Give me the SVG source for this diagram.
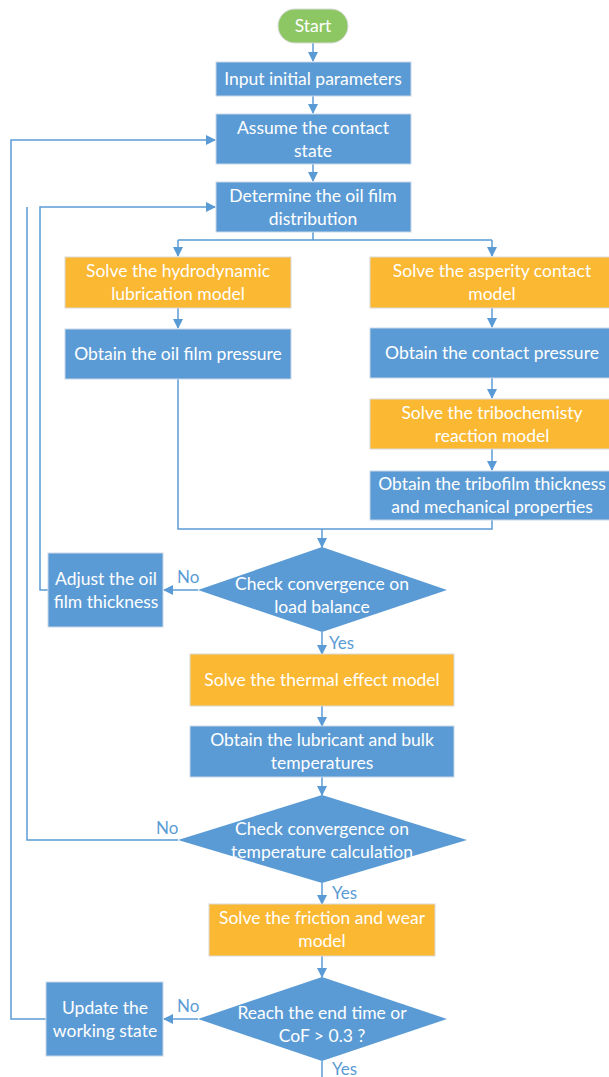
<svg xmlns="http://www.w3.org/2000/svg" width="609" height="1077" viewBox="0 0 609 1077">
<defs>
<marker id="ah" markerWidth="10" markerHeight="10" refX="9" refY="5" orient="auto" markerUnits="userSpaceOnUse">
<path d="M0,0 L10,5 L0,10 Z" fill="#5B9BD5"/>
</marker>
<style>
.b{fill:#5B9BD5;stroke:#C9D7E6;stroke-width:1}
.o{fill:#FBB832;stroke:#D9D9D9;stroke-width:1}
.d{fill:#5B9BD5;stroke:none}
.t{font-family:Lato,"Liberation Sans",sans-serif;font-size:17.5px;fill:#FFFFFF;text-anchor:middle}
.l{font-family:Lato,"Liberation Sans",sans-serif;font-size:17px;fill:#5B9BD5}
.c{fill:none;stroke:#5B9BD5;stroke-width:1.5}
</style>
</defs>
<rect width="609" height="1077" fill="#FFFFFF"/>
<g id="connectors">
<path class="c" d="M313,43 V61" marker-end="url(#ah)"/>
<path class="c" d="M313,96 V113" marker-end="url(#ah)"/>
<path class="c" d="M313,164 V181" marker-end="url(#ah)"/>
<path class="c" d="M313,232 V240 M178,240 H492"/>
<path class="c" d="M178,240 V256" marker-end="url(#ah)"/>
<path class="c" d="M492,240 V256" marker-end="url(#ah)"/>
<path class="c" d="M178,308 V328" marker-end="url(#ah)"/>
<path class="c" d="M492,308 V327" marker-end="url(#ah)"/>
<path class="c" d="M492,378 V398" marker-end="url(#ah)"/>
<path class="c" d="M492,449 V470" marker-end="url(#ah)"/>
<path class="c" d="M178,379 V529 H492 V520"/>
<path class="c" d="M322,529 V547" marker-end="url(#ah)"/>
<path class="c" d="M198,590 H164" marker-end="url(#ah)"/>
<path class="c" d="M48,590 H40 V207 H215" marker-end="url(#ah)"/>
<path class="c" d="M322,632 V654" marker-end="url(#ah)"/>
<path class="c" d="M322,706 V726" marker-end="url(#ah)"/>
<path class="c" d="M322,777 V795" marker-end="url(#ah)"/>
<path class="c" d="M178,840 H27 V207"/>
<path class="c" d="M322,883 V904" marker-end="url(#ah)"/>
<path class="c" d="M322,956 V977" marker-end="url(#ah)"/>
<path class="c" d="M198,1019 H164" marker-end="url(#ah)"/>
<path class="c" d="M46,1019 H11 V140 H215" marker-end="url(#ah)"/>
<path class="c" d="M322,1061 V1077"/>
<text class="l" x="177" y="583">No</text>
<text class="l" x="329" y="649">Yes</text>
<text class="l" x="156" y="834">No</text>
<text class="l" x="332" y="899">Yes</text>
<text class="l" x="177" y="1012">No</text>
<text class="l" x="332" y="1075">Yes</text>
</g>
<g id="start">
<rect x="278" y="9" width="70" height="34" rx="17" fill="#8DC764" stroke="#D9D9D9"/>
<text class="t" x="313" y="32">Start</text>
</g>
<g id="input">
<rect class="b" x="216" y="62" width="195" height="34"/>
<text class="t" x="313" y="85">Input initial parameters</text>
</g>
<g id="assume">
<rect class="b" x="216" y="114" width="195" height="50"/>
<text class="t" x="313" y="134">Assume the contact</text>
<text class="t" x="313" y="157">state</text>
</g>
<g id="determine">
<rect class="b" x="216" y="182" width="195" height="50"/>
<text class="t" x="313" y="202">Determine the oil film</text>
<text class="t" x="313" y="225">distribution</text>
</g>
<g id="hydro">
<rect class="o" x="65" y="257" width="226" height="51"/>
<text class="t" x="178" y="277">Solve the hydrodynamic</text>
<text class="t" x="178" y="300">lubrication model</text>
</g>
<g id="oilpressure">
<rect class="b" x="65" y="329" width="226" height="50"/>
<text class="t" x="178" y="360">Obtain the oil film pressure</text>
</g>
<g id="asperity">
<rect class="o" x="370" y="257" width="240" height="51"/>
<text class="t" x="492" y="277">Solve the asperity contact</text>
<text class="t" x="492" y="300">model</text>
</g>
<g id="contactpressure">
<rect class="b" x="370" y="328" width="240" height="50"/>
<text class="t" x="492" y="359">Obtain the contact pressure</text>
</g>
<g id="tribochem">
<rect class="o" x="370" y="399" width="240" height="50"/>
<text class="t" x="492" y="419">Solve the tribochemisty</text>
<text class="t" x="492" y="442">reaction model</text>
</g>
<g id="tribofilm">
<rect class="b" x="370" y="471" width="240" height="49"/>
<text class="t" x="492" y="490">Obtain the tribofilm thickness</text>
<text class="t" x="492" y="513">and mechanical properties</text>
</g>
<g id="check1">
<polygon class="d" points="322,547 447,590 322,632 198,590"/>
<text class="t" x="322" y="590">Check convergence on</text>
<text class="t" x="322" y="613">load balance</text>
</g>
<g id="adjust">
<rect class="b" x="48" y="553" width="115" height="74"/>
<text class="t" x="106" y="585">Adjust the oil</text>
<text class="t" x="106" y="608">film thickness</text>
</g>
<g id="thermal">
<rect class="o" x="190" y="654" width="264" height="52"/>
<text class="t" x="322" y="686">Solve the thermal effect model</text>
</g>
<g id="temps">
<rect class="b" x="190" y="726" width="264" height="51"/>
<text class="t" x="322" y="746">Obtain the lubricant and bulk</text>
<text class="t" x="322" y="769">temperatures</text>
</g>
<g id="check2">
<polygon class="d" points="322,795 467,840 322,883 178,840"/>
<text class="t" x="322" y="835">Check convergence on</text>
<text class="t" x="322" y="858">temperature calculation</text>
</g>
<g id="friction">
<rect class="o" x="209" y="904" width="226" height="52"/>
<text class="t" x="322" y="924">Solve the friction and wear</text>
<text class="t" x="322" y="947">model</text>
</g>
<g id="check3">
<polygon class="d" points="322,977 447,1019 322,1061 198,1019"/>
<text class="t" x="322" y="1019">Reach the end time or</text>
<text class="t" x="322" y="1042">CoF &gt; 0.3 ?</text>
</g>
<g id="update">
<rect class="b" x="46" y="982" width="117" height="74"/>
<text class="t" x="105" y="1014">Update the</text>
<text class="t" x="105" y="1037">working state</text>
</g>
</svg>
